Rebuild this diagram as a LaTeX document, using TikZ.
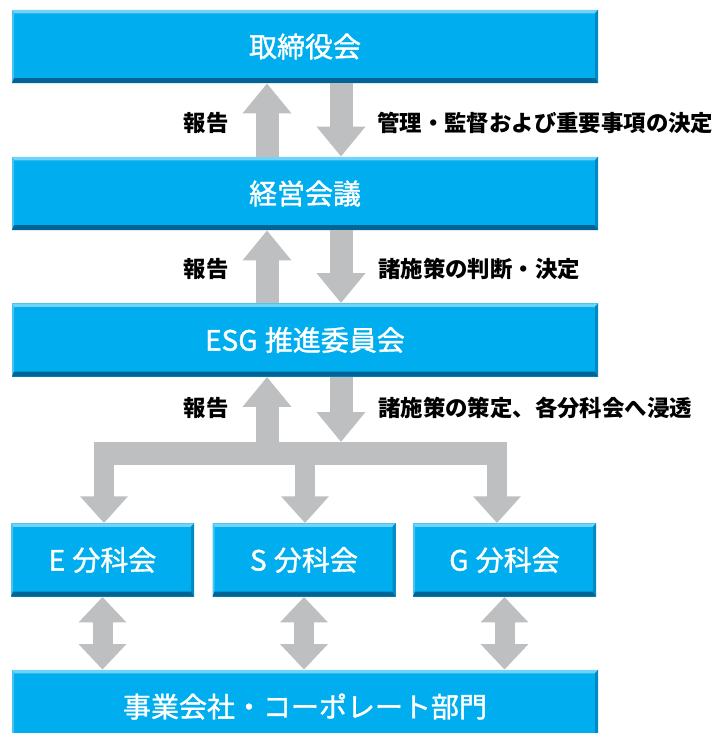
\documentclass[tikz,border=0pt]{standalone}
\usepackage{fontspec}
\newfontfamily\jp{Noto Sans CJK JP}
\newfontfamily\jpbox[FakeBold=1.3]{Noto Sans CJK JP}
\usetikzlibrary{arrows.meta}
\definecolor{boxcyan}{RGB}{0,174,239}
\definecolor{boxlight}{RGB}{115,210,247}
\definecolor{boxdark}{RGB}{0,100,148}
\definecolor{boxside}{RGB}{0,138,194}
\definecolor{arrowgray}{RGB}{190,191,193}
\tikzset{
  bevelbox/.style={rectangle, fill=boxcyan, text=white, inner sep=0pt,
    font=\jpbox\fontsize{21pt}{25pt}\selectfont,
    path picture={
      \fill[boxlight] (path picture bounding box.north west) -- (path picture bounding box.north east)
        -- ([shift={(-2.25pt,-2.6pt)}]path picture bounding box.north east)
        -- ([shift={(1.5pt,-2.6pt)}]path picture bounding box.north west) -- cycle;
      \fill[boxlight!60!boxcyan] (path picture bounding box.north west) -- ([shift={(1.5pt,-2.6pt)}]path picture bounding box.north west)
        -- ([shift={(1.5pt,3.75pt)}]path picture bounding box.south west) -- (path picture bounding box.south west) -- cycle;
      \fill[boxside] (path picture bounding box.north east) -- (path picture bounding box.south east)
        -- ([shift={(-2.25pt,3.75pt)}]path picture bounding box.south east)
        -- ([shift={(-2.25pt,-2.6pt)}]path picture bounding box.north east) -- cycle;
      \fill[boxdark] (path picture bounding box.south west) -- (path picture bounding box.south east)
        -- ([shift={(-2.25pt,3.75pt)}]path picture bounding box.south east)
        -- ([shift={(1.5pt,3.75pt)}]path picture bounding box.south west) -- cycle;
    }},
  widebox/.style={bevelbox, minimum width=439.5pt, minimum height=55pt},
  smallbox/.style={bevelbox, minimum width=137.25pt, minimum height=55pt},
  lbl/.style={font=\jp\bfseries\fontsize{16.8pt}{19pt}\selectfont, text=black, inner sep=0pt},
  fat/.style={draw=arrowgray, line width=17.25pt,
    -{Triangle[width=35.25pt,length=22.5pt,fill=arrowgray,color=arrowgray]}},
  fatboth/.style={draw=arrowgray, line width=15pt,
    {Triangle[width=34.5pt,length=19pt,fill=arrowgray,color=arrowgray]}-{Triangle[width=34.5pt,length=19pt,fill=arrowgray,color=arrowgray]}},
  fork/.style={draw=arrowgray, line width=15pt,
    -{Triangle[width=34.5pt,length=20pt,fill=arrowgray,color=arrowgray]}},
  bar/.style={draw=arrowgray, line width=17.25pt}
}
\newcommand{\lsp}{\hspace{0.26em}}
\begin{document}
\begin{tikzpicture}[x=0.75pt,y=-0.75pt]
\clip (0,0) rectangle (715,733);
\fill[white] (0,0) rectangle (715,733);

% boxes
\node[widebox] (b1) at (305,46.5) {取締役会};
\node[widebox] (b2) at (305,193.5) {経営会議};
\node[widebox] (b3) at (305,340) {ESG\lsp 推進委員会};
\node[smallbox] (be) at (102.5,560) {E\lsp 分科会};
\node[smallbox] (bs) at (304,560) {S\lsp 分科会};
\node[smallbox] (bg) at (504.5,560) {G\lsp 分科会};
\node[widebox] (bb) at (305,706.5) {事業会社・コーポレート部門};

% helper coordinates
\coordinate (ux) at (267,0);
\coordinate (dx) at (341,0);
\coordinate (barL) at (94,453.5);
\coordinate (barR) at (507,453.5);
\coordinate (barTop) at (341,442);
\coordinate (fe) at (104,453.5);
\coordinate (fs) at (305,453.5);
\coordinate (fg) at (497,453.5);

% arrows between top boxes
\draw[fat] (b2.north -| ux) -- (b1.south -| ux);
\draw[fat] (b1.south -| dx) -- (b2.north -| dx);
\draw[fat] (b3.north -| ux) -- (b2.south -| ux);
\draw[fat] (b2.south -| dx) -- (b3.north -| dx);

% fork
\draw[bar] (barL) -- (barR);
\draw[fat] (barL -| ux) -- (b3.south -| ux);
\draw[fat] (b3.south -| dx) -- (barTop);
\draw[fork] (fe) -- (be.north -| fe);
\draw[fork] (fs) -- (bs.north -| fs);
\draw[fork] (fg) -- (bg.north -| fg);

% double arrows
\draw[fatboth] (be.south) -- (bb.north -| be.south);
\draw[fatboth] (bs.south) -- (bb.north -| bs.south);
\draw[fatboth] (bg.south) -- (bb.north -| bg.south);

% labels
\node[lbl, anchor=east] (l1a) at (229,123) {報告};
\node[lbl, anchor=west] (l1b) at (377,123) {管理・監督および重要事項の決定};
\node[lbl, anchor=east] (l2a) at (229,269) {報告};
\node[lbl, anchor=west] (l2b) at (378,269) {諸施策の判断・決定};
\node[lbl, anchor=east] (l3a) at (229,408) {報告};
\node[lbl, anchor=west] (l3b) at (378,408) {諸施策の策定、各分科会へ浸透};
\end{tikzpicture}
\end{document}
